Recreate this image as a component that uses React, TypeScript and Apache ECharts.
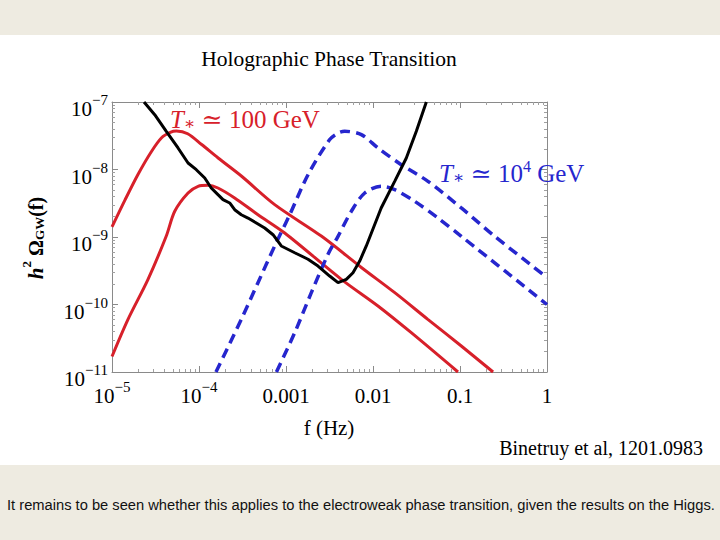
import React, { useEffect, useRef } from "react";
import * as echarts from "echarts";

// ---- data (log10 f [Hz], log10 h^2 Omega_GW) ----
const xTickValues = [1e-5, 1e-4, 1e-3, 1e-2, 1e-1, 1];
const xTickLabels = ["{b|10}{sup|−5}", "{b|10}{sup|−4}", "{b|0.001}", "{b|0.01}", "{b|0.1}", "{b|1}"];
const yTickValues = [1e-11, 1e-10, 1e-9, 1e-8, 1e-7];
const yTickLabels = ["{b|10}{sup|−11}", "{b|10}{sup|−10}", "{b|10}{sup|−9}", "{b|10}{sup|−8}", "{b|10}{sup|−7}"];
const minorMultipliers = [2, 3, 4, 5, 6, 7, 8, 9];

const redUpper: [number, number][] = [
  [-5.0, -8.85], [-4.85, -8.45], [-4.7, -8.07], [-4.55, -7.74], [-4.43, -7.53],
  [-4.33, -7.45], [-4.26, -7.43], [-4.13, -7.47], [-3.97, -7.63], [-3.78, -7.83],
  [-3.51, -8.1], [-3.13, -8.52], [-2.59, -8.99], [-2.13, -9.455], [-1.75, -9.825],
  [-1.37, -10.22], [-0.985, -10.615], [-0.62, -11.0],
];
const redLower: [number, number][] = [
  [-5.0, -10.77], [-4.816, -10.22], [-4.586, -9.627], [-4.376, -8.985], [-4.279, -8.619],
  [-4.126, -8.348], [-4.011, -8.249], [-3.897, -8.234], [-3.782, -8.274], [-3.59, -8.422],
  [-3.322, -8.67], [-3.015, -8.941], [-2.364, -9.627], [-1.943, -10.022], [-1.56, -10.418],
  [-1.023, -11.0],
];
const blueUpper: [number, number][] = [
  [-3.805, -11.0], [-3.514, -10.219], [-3.322, -9.677], [-3.13, -9.133], [-2.957, -8.67],
  [-2.747, -8.077], [-2.5, -7.56], [-2.4, -7.46], [-2.325, -7.434], [-2.134, -7.484],
  [-1.943, -7.681], [-1.675, -7.929], [-1.368, -8.175], [-0.985, -8.57], [-0.601, -8.99],
  [0.0, -9.6],
];
const blueLower: [number, number][] = [
  [-3.11, -11.0], [-2.9, -10.418], [-2.709, -9.825], [-2.517, -9.256], [-2.402, -8.99],
  [-2.249, -8.619], [-2.095, -8.348], [-1.905, -8.249], [-1.751, -8.299], [-1.521, -8.471],
  [-1.253, -8.719], [-0.985, -8.99], [0.0, -10.0],
];
const sensitivity: [number, number][] = [
  [-4.632, -7.0], [-4.509, -7.188], [-4.376, -7.434], [-4.241, -7.681], [-4.126, -7.904],
  [-4.031, -8.003], [-3.934, -8.126], [-3.859, -8.274], [-3.782, -8.373], [-3.724, -8.447],
  [-3.647, -8.496], [-3.59, -8.596], [-3.514, -8.67], [-3.437, -8.719], [-3.341, -8.793],
  [-3.245, -8.867], [-3.149, -8.966], [-3.054, -9.133], [-2.9, -9.233], [-2.747, -9.33],
  [-2.632, -9.43], [-2.498, -9.578], [-2.402, -9.677], [-2.307, -9.627], [-2.23, -9.529],
  [-2.153, -9.356], [-2.077, -9.133], [-1.906, -8.57], [-1.751, -8.175], [-1.617, -7.83],
  [-1.502, -7.434], [-1.387, -7.0],
];

const titleText = "Holographic Phase Transition";
const xName = "f (Hz)";
const creditText = "Binetruy et al, 1201.0983";
const captionText =
  "It remains to be seen whether this applies to the electroweak phase transition, given the results on the Higgs.";

const RED = "#D7202A";
const BLUE = "#2626CE";
const SERIF = "'Liberation Serif', 'DejaVu Serif', serif";

const toPts = (arr: [number, number][]) => arr.map(([a, b]) => [Math.pow(10, a), Math.pow(10, b)]);
const minorOf = (majors: number[]) =>
  majors.slice(0, -1).flatMap((d) => minorMultipliers.map((m) => m * d));

const labelRich = {
  b: { fontSize: 21, lineHeight: 27, verticalAlign: "bottom", fontFamily: SERIF, color: "#000" },
  sup: { fontSize: 15, lineHeight: 15, verticalAlign: "top", fontFamily: SERIF, color: "#000" },
};

const fmt = (vals: number[], labels: string[]) => (v: number) => {
  const i = vals.findIndex((t) => Math.abs(Math.log10(t) - Math.log10(v)) < 1e-6);
  return i >= 0 ? labels[i] : "";
};

export default function App() {
  const ref = useRef<HTMLDivElement>(null);
  useEffect(() => {
    if (!ref.current) return;
    const chart = echarts.init(ref.current, undefined, { renderer: "svg" });
    const frame = { show: true, lineStyle: { color: "#8a8a8a", width: 1 } };
    const xBase = { type: "log", logBase: 10, min: 1e-5, max: 1, gridIndex: 0, splitLine: { show: false } };
    const yBase = { type: "log", logBase: 10, min: 1e-11, max: 1e-7, gridIndex: 0, splitLine: { show: false } };
    const majorTick = (vals: number[]) => ({ show: true, inside: true, length: 6, customValues: vals, lineStyle: { color: "#8a8a8a" } });
    const minorTickCfg = (vals: number[]) => ({ show: true, inside: true, length: 3, customValues: vals, lineStyle: { color: "#a0a0a0" } });
    const xMinor = minorOf(xTickValues);
    const yMinor = minorOf(yTickValues);

    const option: any = {
      animation: false,
      backgroundColor: "#EEEBE1",
      grid: { left: 112, top: 102, width: 435, height: 270, containLabel: false },
      xAxis: [
        {
          ...xBase, position: "bottom", axisLine: frame, axisTick: majorTick(xTickValues),
          axisLabel: { show: true, margin: 7, customValues: xTickValues, formatter: fmt(xTickValues, xTickLabels), rich: labelRich, showMinLabel: true, showMaxLabel: true },
        },
        { ...xBase, position: "bottom", axisLine: { show: false }, axisTick: minorTickCfg(xMinor), axisLabel: { show: false } },
        { ...xBase, position: "top", axisLine: frame, axisTick: majorTick(xTickValues), axisLabel: { show: false } },
        { ...xBase, position: "top", axisLine: { show: false }, axisTick: minorTickCfg(xMinor), axisLabel: { show: false } },
      ],
      yAxis: [
        {
          ...yBase, position: "left", axisLine: frame, axisTick: majorTick(yTickValues),
          axisLabel: { show: true, margin: 4, padding: [8, 0, 0, 0], customValues: yTickValues, formatter: fmt(yTickValues, yTickLabels), rich: labelRich, showMinLabel: true, showMaxLabel: true },
        },
        { ...yBase, position: "left", axisLine: { show: false }, axisTick: minorTickCfg(yMinor), axisLabel: { show: false } },
        { ...yBase, position: "right", axisLine: frame, axisTick: majorTick(yTickValues), axisLabel: { show: false } },
        { ...yBase, position: "right", axisLine: { show: false }, axisTick: minorTickCfg(yMinor), axisLabel: { show: false } },
      ],
      series: [
        { type: "line", data: toPts(redUpper), showSymbol: false, smooth: 0.3, lineStyle: { color: RED, width: 3 }, z: 3 },
        { type: "line", data: toPts(redLower), showSymbol: false, smooth: 0.3, lineStyle: { color: RED, width: 3 }, z: 3 },
        { type: "line", data: toPts(blueUpper), showSymbol: false, smooth: 0.3, lineStyle: { color: BLUE, width: 3.5, type: [10, 6] }, z: 4 },
        { type: "line", data: toPts(blueLower), showSymbol: false, smooth: 0.3, lineStyle: { color: BLUE, width: 3.5, type: [10, 6] }, z: 4 },
        { type: "line", data: toPts(sensitivity), showSymbol: false, lineStyle: { color: "#000", width: 3 }, z: 5 },
      ],
      graphic: [
        { type: "rect", z: -100, silent: true, shape: { x: 0, y: 35, width: 720, height: 430 }, style: { fill: "#ffffff" } },
        { type: "text", x: 329, y: 59, z: 10, style: { text: titleText, fontFamily: SERIF, fontSize: 21.5, fill: "#000", textAlign: "center", textVerticalAlign: "middle" } },
        { type: "text", x: 329, y: 428, z: 10, style: { text: xName, fontFamily: SERIF, fontSize: 21, fill: "#000", textAlign: "center", textVerticalAlign: "middle" } },
        {
          type: "text", x: 33, y: 238, rotation: Math.PI / 2, z: 10,
          style: {
            text: "{h|h}{sp|2}{n| Ω}{sb|GW}{n|(f)}", textAlign: "center", textVerticalAlign: "middle",
            rich: {
              h: { fontFamily: SERIF, fontSize: 21, fontStyle: "italic", fontWeight: "bold", lineHeight: 26, verticalAlign: "bottom", fill: "#000" },
              sp: { fontFamily: SERIF, fontSize: 13, fontWeight: "bold", lineHeight: 13, verticalAlign: "top", fill: "#000" },
              n: { fontFamily: SERIF, fontSize: 20, fontWeight: "bold", lineHeight: 26, verticalAlign: "bottom", fill: "#000" },
              sb: { fontFamily: SERIF, fontSize: 13, fontWeight: "bold", lineHeight: 13, verticalAlign: "bottom", fill: "#000" },
            },
          },
        },
        {
          type: "text", x: 170, y: 118, z: 10,
          style: {
            text: "{t|T}{s|∗}{r| ≃ 100 GeV}", textVerticalAlign: "middle",
            rich: {
              t: { fontFamily: SERIF, fontSize: 25, fontStyle: "italic", lineHeight: 28, verticalAlign: "bottom", fill: RED },
              s: { fontFamily: SERIF, fontSize: 17, lineHeight: 17, verticalAlign: "bottom", fill: RED },
              r: { fontFamily: SERIF, fontSize: 25, lineHeight: 28, verticalAlign: "bottom", fill: RED },
            },
          },
        },
        {
          type: "text", x: 439, y: 172, z: 10,
          style: {
            text: "{t|T}{s|∗}{r| ≃ 10}{p|4}{r| GeV}", textVerticalAlign: "middle",
            rich: {
              t: { fontFamily: SERIF, fontSize: 25, fontStyle: "italic", lineHeight: 28, verticalAlign: "bottom", fill: BLUE },
              s: { fontFamily: SERIF, fontSize: 17, lineHeight: 17, verticalAlign: "bottom", fill: BLUE },
              r: { fontFamily: SERIF, fontSize: 25, lineHeight: 28, verticalAlign: "bottom", fill: BLUE },
              p: { fontFamily: SERIF, fontSize: 16, lineHeight: 16, verticalAlign: "top", fill: BLUE },
            },
          },
        },
        { type: "text", x: 703, y: 448, z: 10, style: { text: creditText, fontFamily: SERIF, fontSize: 20, fill: "#000", textAlign: "right", textVerticalAlign: "middle" } },
        { type: "text", x: 7, y: 505, z: 10, style: { text: captionText, fontFamily: "'Liberation Sans', Arial, sans-serif", fontSize: 14.7, fill: "#111", textAlign: "left", textVerticalAlign: "middle" } },
      ],
    };
    chart.setOption(option);
    return () => chart.dispose();
  }, []);
  return <div ref={ref} style={{ position: "absolute", left: 0, top: 0, width: 720, height: 540 }} />;
}
